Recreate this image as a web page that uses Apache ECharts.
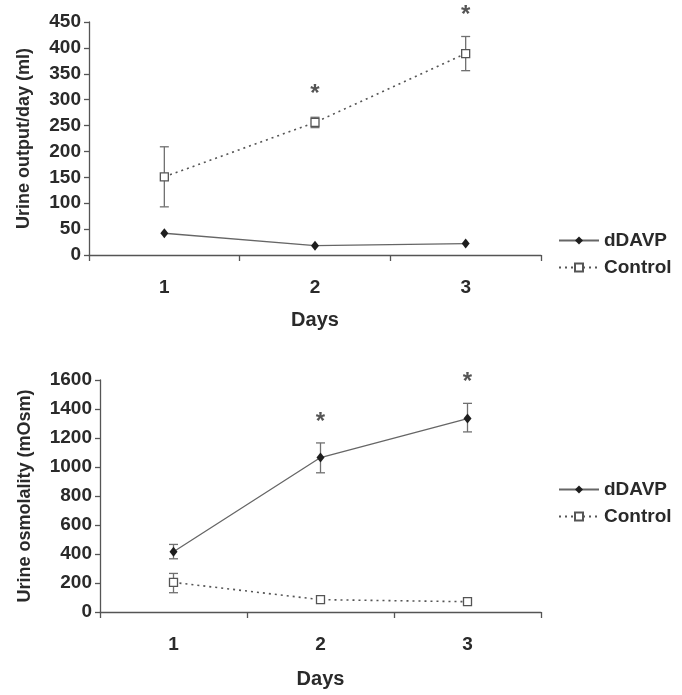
<!DOCTYPE html>
<html>
<head>
<meta charset="utf-8">
<script src="https://cdn.jsdelivr.net/npm/echarts@6/dist/echarts.min.js"></script>
<style>
html,body{margin:0;padding:0;background:#fff;}
#c{width:682px;height:695px;}
</style>
</head>
<body>
<div id="c"></div>
<script>
// ---- data ----
const days = ['1', '2', '3'];
// Top chart: urine output/day (ml)
const outDDAVP = [42, 18, 22];
const outControl = [151, 256, 389];
const outControlLow = [93, 246, 356];
const outControlHigh = [209, 266, 422];
const outSig = [['2', 318], ['3', 470]];
// Bottom chart: urine osmolality (mOsm)
const osmDDAVP = [415, 1065, 1334];
const osmDDAVPLow = [367, 960, 1242];
const osmDDAVPHigh = [466, 1166, 1439];
const osmControl = [204, 85, 71];
const osmControlLow = [133, 85, 71];
const osmControlHigh = [266, 85, 71];
const osmSig = [['2', 1336], ['3', 1612]];
const topTicks = [0, 450, 50];
const botTicks = [0, 1600, 200];

const FONT = 'Liberation Sans, Arial, sans-serif';
const TXT = '#2a2a2a';
const AX = '#555';

function errData(low, high) {
  return days.map((d, i) => [i, low[i], high[i]]);
}
function errSeries(xi, yi, low, high) {
  return {
    type: 'custom', xAxisIndex: xi, yAxisIndex: yi, z: 2, silent: true,
    data: errData(low, high),
    renderItem: function (params, api) {
      const lo = api.coord([api.value(0), api.value(1)]);
      const hi = api.coord([api.value(0), api.value(2)]);
      if (Math.abs(lo[1] - hi[1]) < 6) return null;
      const w = 4.5;
      const st = { stroke: '#707070', lineWidth: 1.3 };
      return { type: 'group', children: [
        { type: 'line', shape: { x1: lo[0], y1: lo[1], x2: hi[0], y2: hi[1] }, style: st },
        { type: 'line', shape: { x1: lo[0] - w, y1: lo[1], x2: lo[0] + w, y2: lo[1] }, style: st },
        { type: 'line', shape: { x1: hi[0] - w, y1: hi[1], x2: hi[0] + w, y2: hi[1] }, style: st }
      ]};
    }
  };
}
function sigSeries(xi, yi, pts) {
  return {
    type: 'scatter', xAxisIndex: xi, yAxisIndex: yi, symbolSize: 1, silent: true, clip: false,
    itemStyle: { color: 'rgba(0,0,0,0)' },
    data: pts,
    label: { show: true, position: 'inside', formatter: '*', fontSize: 24, fontWeight: 'bold', color: TXT, fontFamily: FONT, offset: [0, 4] }
  };
}
function lineSeries(name, xi, yi, data, isD) {
  return {
    name: name, type: 'line', xAxisIndex: xi, yAxisIndex: yi, z: 3,
    data: data,
    symbol: isD ? 'diamond' : 'rect',
    symbolSize: isD ? [8, 10] : 8,
    showSymbol: true,
    itemStyle: isD ? { color: '#1e1e1e' } : { color: '#fff', borderColor: '#555', borderWidth: 1.3 },
    lineStyle: isD ? { color: '#666', width: 1.3, type: 'solid' } : { color: '#555', width: 1.6, type: [2, 4] }
  };
}
function xAx(gi, nameGap) {
  return {
    type: 'category', gridIndex: gi, data: days, boundaryGap: true,
    name: 'Days', nameLocation: 'middle', nameGap: nameGap,
    nameTextStyle: { fontFamily: FONT, fontWeight: 'bold', fontSize: 20, color: TXT },
    axisLine: { lineStyle: { color: AX, width: 1.3 } },
    axisTick: { show: true, alignWithLabel: false, length: 6, lineStyle: { color: AX, width: 1.3 } },
    axisLabel: { margin: 23, fontFamily: FONT, fontWeight: 'bold', fontSize: 19, color: TXT },
    splitLine: { show: false }
  };
}
function yAx(gi, t, name, nameGap) {
  return {
    type: 'value', gridIndex: gi, min: t[0], max: t[1], interval: t[2],
    name: name, nameLocation: 'middle', nameRotate: 90, nameGap: nameGap,
    nameTextStyle: { fontFamily: FONT, fontWeight: 'bold', fontSize: 18, color: TXT },
    axisLine: { show: true, lineStyle: { color: AX, width: 1.3 } },
    axisTick: { show: true, length: 5, lineStyle: { color: AX, width: 1.3 } },
    axisLabel: { margin: 8, fontFamily: FONT, fontWeight: 'bold', fontSize: 19, color: TXT, formatter: v => String(v) },
    splitLine: { show: false }
  };
}
function legend(top) {
  return {
    orient: 'vertical', left: 553, top: top, itemWidth: 40, itemHeight: 10, itemGap: 8,
    textStyle: { fontFamily: FONT, fontWeight: 'bold', fontSize: 19, color: TXT },
    data: ['dDAVP', 'Control']
  };
}

const chart = echarts.init(document.getElementById('c'), null, { renderer: 'canvas' });
const option = {
  backgroundColor: '#fff',
  animation: false,
  grid: [
    { left: 89, top: 22, width: 452, height: 233 },
    { left: 100, top: 380, width: 441, height: 232 }
  ],
  legend: [legend(226), legend(475)],
  xAxis: [xAx(0, 55), xAx(1, 57)],
  yAxis: [
    yAx(0, topTicks, 'Urine output/day (ml)', 56),
    yAx(1, botTicks, 'Urine osmolality (mOsm)', 66)
  ],
  series: [
    errSeries(0, 0, outControlLow, outControlHigh),
    lineSeries('dDAVP', 0, 0, outDDAVP, true),
    lineSeries('Control', 0, 0, outControl, false),
    sigSeries(0, 0, outSig),
    errSeries(1, 1, osmDDAVPLow, osmDDAVPHigh),
    errSeries(1, 1, osmControlLow, osmControlHigh),
    lineSeries('dDAVP', 1, 1, osmDDAVP, true),
    lineSeries('Control', 1, 1, osmControl, false),
    sigSeries(1, 1, osmSig)
  ]
};
chart.setOption(option);
</script>
</body>
</html>
